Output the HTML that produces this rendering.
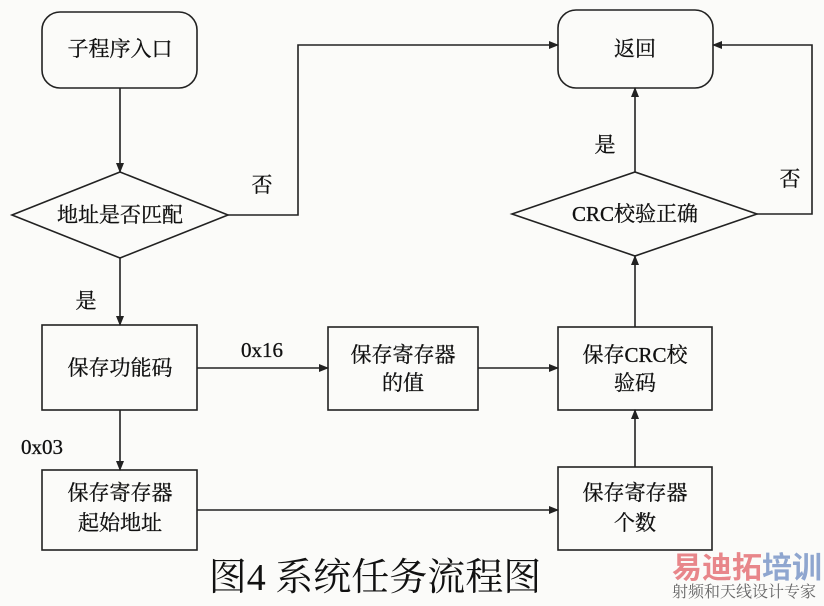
<!DOCTYPE html>
<html><head><meta charset="utf-8"><style>
body{margin:0;background:#fbfbf9;}
svg text{font-family:"Liberation Serif","Noto Serif CJK SC",serif;fill:#111;}
</style></head><body>
<svg width="824" height="601" viewBox="0 0 824 601" xmlns="http://www.w3.org/2000/svg">
<defs><marker id="a" markerWidth="10" markerHeight="10" refX="9" refY="5" orient="auto" markerUnits="userSpaceOnUse"><path d="M0,1 L10,5 L0,9 z" fill="#222"/></marker></defs>
<g fill="none" stroke="#222" stroke-width="1.6">
<rect x="42" y="12" width="155" height="76" rx="18"/>
<rect x="558" y="10" width="155" height="78" rx="18"/>
<polygon points="12,215 120,172 228,215 120,258"/>
<polygon points="512,214 635,172 757,214 635,256"/>
<rect x="42" y="325" width="155" height="85"/>
<rect x="328" y="327" width="150" height="83"/>
<rect x="558" y="327" width="154" height="83"/>
<rect x="42" y="470" width="155" height="80"/>
<rect x="558" y="467" width="154" height="83"/>
<line x1="120" y1="88" x2="120" y2="172" marker-end="url(#a)"/>
<polyline points="228,215 298,215 298,45 558,45" marker-end="url(#a)"/>
<line x1="120" y1="258" x2="120" y2="325" marker-end="url(#a)"/>
<line x1="197" y1="368" x2="328" y2="368" marker-end="url(#a)"/>
<line x1="478" y1="368" x2="558" y2="368" marker-end="url(#a)"/>
<line x1="635" y1="327" x2="635" y2="256" marker-end="url(#a)"/>
<line x1="635" y1="172" x2="635" y2="88" marker-end="url(#a)"/>
<polyline points="757,214 812,214 812,45 713,45" marker-end="url(#a)"/>
<line x1="120" y1="410" x2="120" y2="470" marker-end="url(#a)"/>
<line x1="197" y1="510" x2="558" y2="510" marker-end="url(#a)"/>
<line x1="635" y1="467" x2="635" y2="410" marker-end="url(#a)"/>
</g>
<g font-size="21" text-anchor="middle" style="stroke:#111;stroke-width:0.3">
<text x="120" y="56">子程序入口</text>
<text x="635" y="56">返回</text>
<text x="120" y="222">地址是否匹配</text>
<text x="635" y="221">CRC校验正确</text>
<text x="120" y="375">保存功能码</text>
<text x="403" y="362">保存寄存器</text>
<text x="403" y="390">的值</text>
<text x="635" y="362">保存CRC校</text>
<text x="635" y="390">验码</text>
<text x="120" y="500">保存寄存器</text>
<text x="120" y="530">起始地址</text>
<text x="635" y="500">保存寄存器</text>
<text x="635" y="530">个数</text>
<text x="262" y="192">否</text>
<text x="86" y="308">是</text>
<text x="605" y="152">是</text>
<text x="790" y="186">否</text>
<text x="262" y="357">0x16</text>
<text x="42" y="454">0x03</text>
</g>
<text x="375" y="590" font-size="38" text-anchor="middle">图4  系统任务流程图</text>
<text x="672" y="578" font-size="30" font-weight="bold" style="fill:#e8868a;font-family:'Liberation Sans','Noto Sans CJK SC',sans-serif">易迪拓</text>
<text x="762" y="578" font-size="30" font-weight="bold" style="fill:#8fa6cf;font-family:'Liberation Sans','Noto Sans CJK SC',sans-serif">培训</text>
<text x="672" y="597" font-size="16" style="fill:#666">射频和天线设计专家</text>
</svg>
</body></html>
